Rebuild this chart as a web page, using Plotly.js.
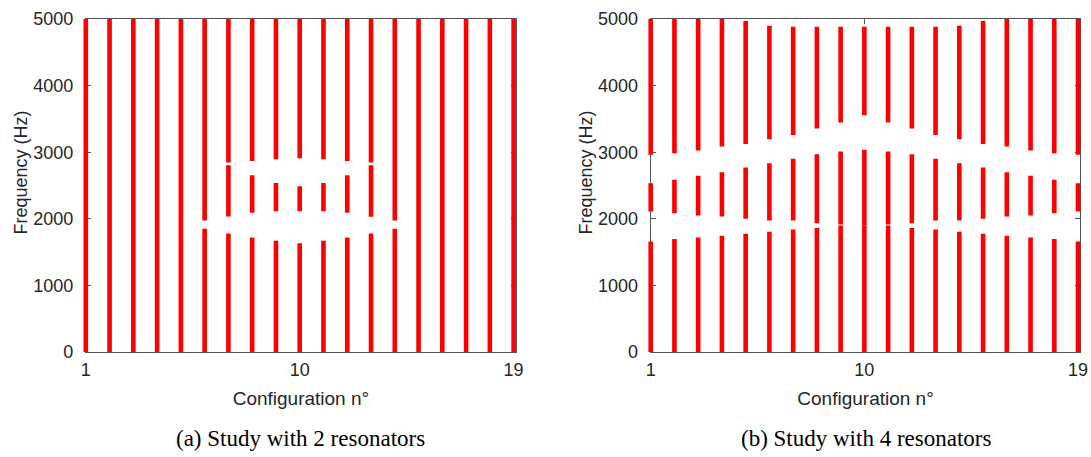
<!DOCTYPE html>
<html><head><meta charset="utf-8">
<script src="https://cdn.plot.ly/plotly-3.0.1.min.js"></script>
<style>html,body{margin:0;padding:0;background:#fff}#chart{width:1091px;height:457px}</style>
</head><body><div id="chart"></div>
<script>
// ---- data ----
const configs = [1,2,3,4,5,6,7,8,9,10,11,12,13,14,15,16,17,18,19];
const xTickVals = [1, 10, 19];
const yTickVals = [0, 1000, 2000, 3000, 4000, 5000];

// (a) 2 resonators: frequency bands (Hz) per configuration
const aLowerTop    = [5000,5000,5000,5000,5000,1850,1781,1721,1671,1632,1671,1721,1781,1850,5000,5000,5000,5000,5000];
const aMiddleBottom= [null,null,null,null,null,null,2035,2090,2115,2115,2115,2090,2030,null,null,null,null,null,null];
const aMiddleTop   = [null,null,null,null,null,null,2804,2654,2537,2487,2537,2654,2804,null,null,null,null,null,null];
const aUpperBottom = [null,null,null,null,null,1975,2844,2869,2894,2911,2894,2869,2844,1975,null,null,null,null,null];
const aUpperTop    = [null,null,null,null,null,5000,5000,5000,5000,5000,5000,5000,5000,5000,null,null,null,null,null];

// (b) 4 resonators
const bLowerTop    = [1660,1695,1720,1745,1775,1805,1840,1860,1900,1905,1900,1860,1840,1805,1775,1745,1720,1695,1660];
const bMiddleBottom= [2110,2085,2050,2035,2000,1975,1975,1935,1915,1905,1915,1935,1975,1975,2000,2035,2050,2085,2110];
const bMiddleTop   = [2535,2585,2645,2700,2770,2835,2900,2970,3010,3035,3010,2970,2900,2835,2770,2700,2645,2585,2535];
const bUpperBottom = [2960,2985,3025,3085,3125,3195,3260,3355,3445,3555,3445,3355,3260,3195,3125,3085,3025,2985,2960];
const bUpperTop    = [5000,5000,5000,5000,4970,4900,4885,4885,4885,4885,4885,4885,4885,4900,4970,5000,5000,5000,5000];

// ---- build segment paths ----
function segments(lowerTop, midBot, midTop, upBot, upTop) {
  const xs = [], ys = [];
  configs.forEach((c, i) => {
    xs.push(c, c, null); ys.push(0, lowerTop[i], null);
    if (midBot[i] != null) { xs.push(c, c, null); ys.push(midBot[i], midTop[i], null); }
    if (upBot[i] != null) { xs.push(c, c, null); ys.push(upBot[i], upTop[i], null); }
  });
  return {xs, ys};
}
const segA = segments(aLowerTop, aMiddleBottom, aMiddleTop, aUpperBottom, aUpperTop);
const segB = segments(bLowerTop, bMiddleBottom, bMiddleTop, bUpperBottom, bUpperTop);

const RED = '#ff0000';
const traces = [
  {x: [], y: [], xaxis: 'x', yaxis: 'y', type: 'scatter', mode: 'lines', showlegend: false, hoverinfo: 'skip'},
  {x: [], y: [], xaxis: 'x2', yaxis: 'y2', type: 'scatter', mode: 'lines', showlegend: false, hoverinfo: 'skip'},
  {x: segA.xs, y: segA.ys, xaxis: 'x3', yaxis: 'y3', type: 'scatter', mode: 'lines',
   line: {color: RED, width: 4.6}, connectgaps: false, showlegend: false},
  {x: segB.xs, y: segB.ys, xaxis: 'x4', yaxis: 'y4', type: 'scatter', mode: 'lines',
   line: {color: RED, width: 4.6}, connectgaps: false, showlegend: false}
];

// ---- layout ----
const W = 1091, H = 457, MT = 19, MB = 105;
const PH = H - MT - MB;
const frameRange = [1, 19.1];
const pad = 0.15;
const domL = [85.8 / W, 516 / W];
const domR = [650.7 / W, 1080.4 / W];
function ext(d) {
  const u = (d[1] - d[0]) / (frameRange[1] - frameRange[0]);
  return [d[0] - pad * u, d[1] + pad * u];
}
const TXT = '#262626';
const FONT = 'Liberation Sans, Arial, sans-serif';
const SERIF = 'Liberation Serif, Times New Roman, serif';
function frameX(dom, anchor) {
  return {domain: dom, anchor: anchor, range: frameRange, tickvals: xTickVals, ticktext: xTickVals.map(String),
    ticks: 'inside', ticklen: 5, tickcolor: '#555', showline: true, linecolor: '#555', linewidth: 1,
    mirror: 'ticks', showgrid: false, zeroline: false, fixedrange: true, ticklabelstandoff: 1,
    tickfont: {family: FONT, size: 18, color: TXT},
    title: {text: 'Configuration n°', font: {family: FONT, size: 19, color: TXT}, standoff: 13}};
}
function frameY(anchor) {
  return {domain: [0, 1], anchor: anchor, range: [0, 5000], tickvals: yTickVals,
    ticks: 'inside', ticklen: 5, tickcolor: '#555', showline: true, linecolor: '#555', linewidth: 1,
    mirror: 'ticks', showgrid: false, zeroline: false, fixedrange: true, ticklabelstandoff: 8,
    tickfont: {family: FONT, size: 18, color: TXT}};
}
function yTitle(px) {
  return {text: 'Frequency (Hz)', xref: 'paper', yref: 'paper', x: px / W, y: (MT + PH - 172.5) / PH,
    textangle: -90, xanchor: 'center', yanchor: 'middle', showarrow: false,
    font: {family: FONT, size: 18, color: TXT}};
}
function caption(text, dom) {
  return {text: text, xref: 'paper', yref: 'paper', x: (dom[0] + dom[1]) / 2, y: (MT + PH - 438) / PH,
    xanchor: 'center', yanchor: 'middle', showarrow: false, font: {family: SERIF, size: 23, color: '#000'}};
}
const layout = {
  width: W, height: H,
  margin: {l: 0, r: 0, t: MT, b: MB},
  paper_bgcolor: '#ffffff', plot_bgcolor: 'rgba(0,0,0,0)',
  showlegend: false,
  xaxis: frameX(domL, 'y'),
  yaxis: frameY('x'),
  xaxis2: frameX(domR, 'y2'),
  yaxis2: frameY('x2'),
  xaxis3: {domain: ext(domL), anchor: 'y3', range: [frameRange[0] - pad, frameRange[1] + pad], visible: false, fixedrange: true},
  yaxis3: {domain: [0, 1], anchor: 'x3', range: [0, 5000], visible: false, fixedrange: true},
  xaxis4: {domain: ext(domR), anchor: 'y4', range: [frameRange[0] - pad, frameRange[1] + pad], visible: false, fixedrange: true},
  yaxis4: {domain: [0, 1], anchor: 'x4', range: [0, 5000], visible: false, fixedrange: true},
  annotations: [
    yTitle(20), yTitle(585),
    caption('(a) Study with 2 resonators', domL),
    caption('(b) Study with 4 resonators', domR)
  ]
};
Plotly.newPlot('chart', traces, layout, {displayModeBar: false, staticPlot: true});
</script>
</body></html>
